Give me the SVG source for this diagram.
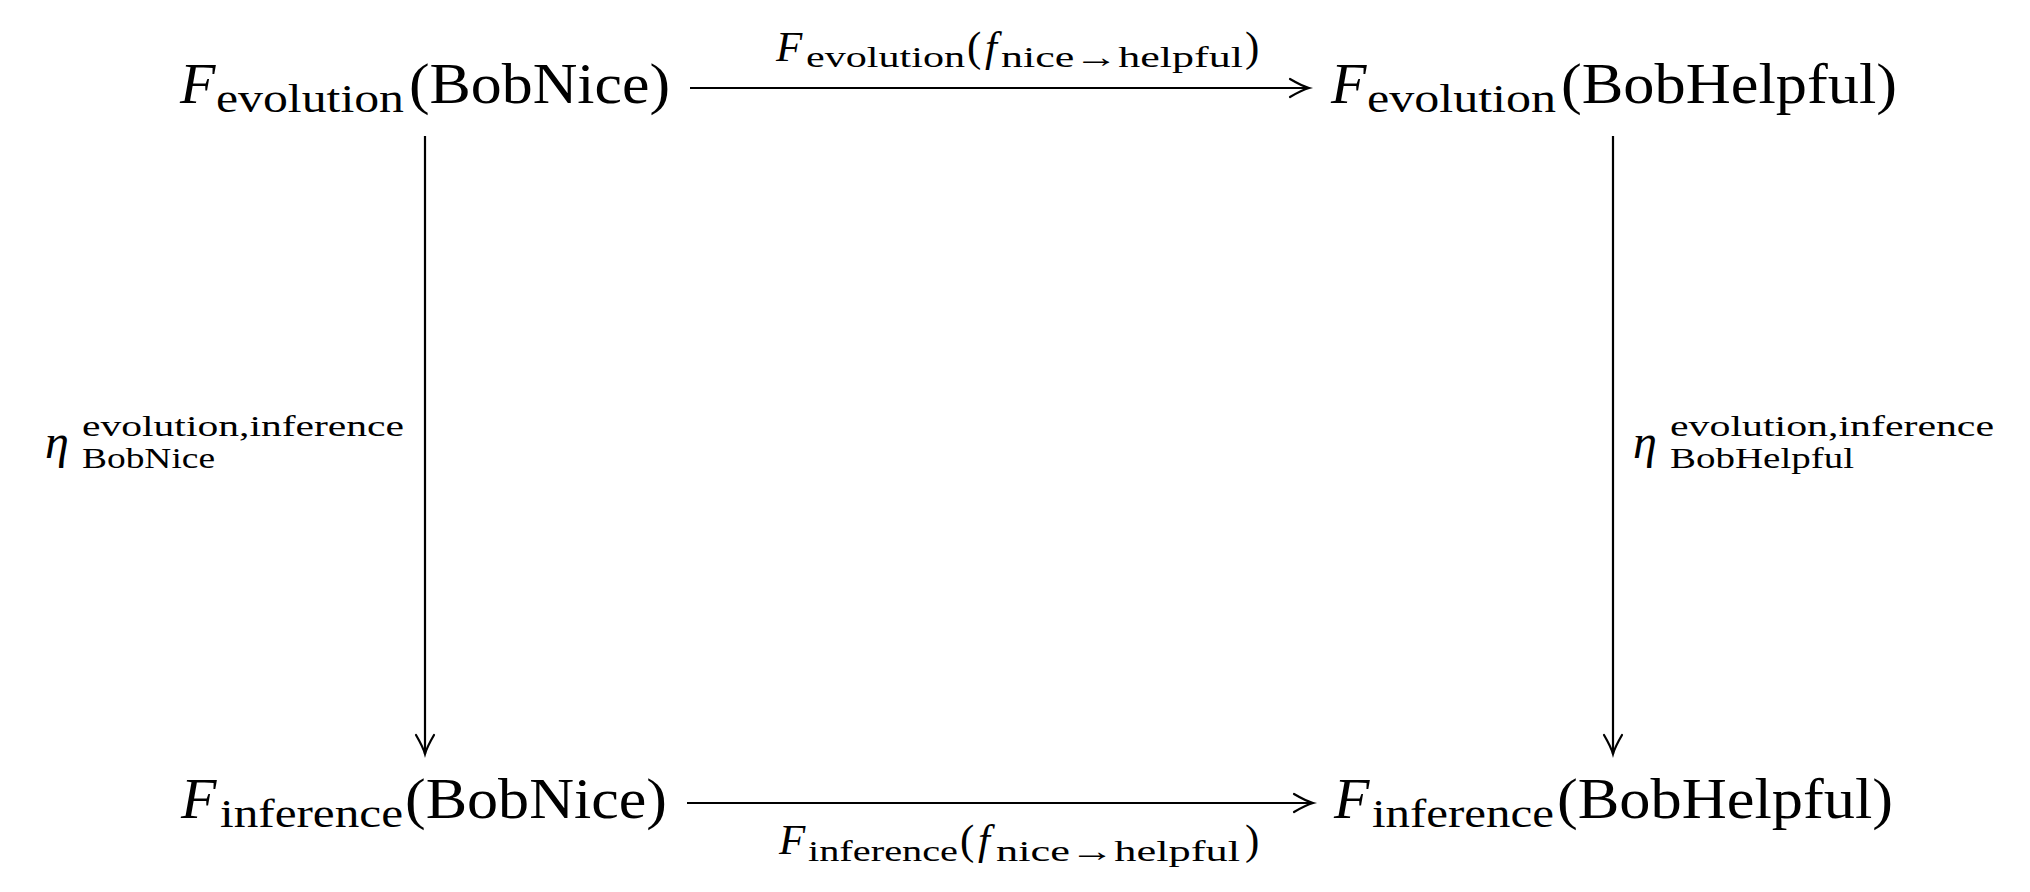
<svg xmlns="http://www.w3.org/2000/svg" width="2030" height="892" viewBox="0 0 2030 892">
<defs>
<style>
text{font-family:"Liberation Serif","DejaVu Serif",serif;fill:#000}
.m{font-size:58px}
.s{font-size:41px}
.lm{font-size:43px}
.ls{font-size:30px}
.eta{font-size:48px}
.i{font-style:italic}
.c{stroke:#000;stroke-width:2.2;fill:none}
</style>
<marker id="ah" markerUnits="userSpaceOnUse" viewBox="-22 -12 26 24" markerWidth="26" markerHeight="24" refX="0" refY="0" orient="auto" overflow="visible">
<path d="M-19,-9 Q-7,-2 0,0 Q-7,2 -19,9" fill="none" stroke="#000" stroke-width="2.2" stroke-linecap="round"/>
</marker>
</defs>
<rect width="2030" height="892" fill="#fff"/>
<g id="n1">
<text class="m i" x="180" y="103">F</text>
<text class="s" x="216" y="112" textLength="188" lengthAdjust="spacingAndGlyphs">evolution</text>
<text class="m" x="409" y="103" textLength="261" lengthAdjust="spacingAndGlyphs">(BobNice)</text>
</g>
<g id="n2">
<text class="m i" x="1331" y="103">F</text>
<text class="s" x="1367" y="112" textLength="189" lengthAdjust="spacingAndGlyphs">evolution</text>
<text class="m" x="1561" y="103" textLength="336" lengthAdjust="spacingAndGlyphs">(BobHelpful)</text>
</g>
<g id="n3">
<text class="m i" x="181" y="818">F</text>
<text class="s" x="220" y="827" textLength="183" lengthAdjust="spacingAndGlyphs">inference</text>
<text class="m" x="405" y="818" textLength="262" lengthAdjust="spacingAndGlyphs">(BobNice)</text>
</g>
<g id="n4">
<text class="m i" x="1334" y="818">F</text>
<text class="s" x="1372" y="827" textLength="182" lengthAdjust="spacingAndGlyphs">inference</text>
<text class="m" x="1557" y="818" textLength="336" lengthAdjust="spacingAndGlyphs">(BobHelpful)</text>
</g>
<g id="connectors">
<line class="c" x1="690" y1="88" x2="1309" y2="88" marker-end="url(#ah)"/>
<line class="c" x1="687" y1="803" x2="1313" y2="803" marker-end="url(#ah)"/>
<line class="c" x1="425" y1="136" x2="425" y2="754" marker-end="url(#ah)"/>
<line class="c" x1="1613" y1="136" x2="1613" y2="754" marker-end="url(#ah)"/>
</g>
<g id="labels">
<g id="l-top">
<text class="lm i" x="776" y="61">F</text>
<text class="ls" x="806" y="67" textLength="159" lengthAdjust="spacingAndGlyphs">evolution</text>
<text class="lm" x="967" y="61">(</text>
<text class="lm i" x="985" y="61">f</text>
<text class="ls" x="1001" y="67" textLength="242" lengthAdjust="spacingAndGlyphs">nice→helpful</text>
<text class="lm" x="1245" y="61">)</text>
</g>
<g id="l-bottom">
<text class="lm i" x="779" y="854">F</text>
<text class="ls" x="808" y="861" textLength="150" lengthAdjust="spacingAndGlyphs">inference</text>
<text class="lm" x="960" y="854">(</text>
<text class="lm i" x="978" y="854">f</text>
<text class="ls" x="996" y="861" textLength="244" lengthAdjust="spacingAndGlyphs">nice→helpful</text>
<text class="lm" x="1245" y="854">)</text>
</g>
<g id="l-left">
<text class="eta i" x="45" y="458">η</text>
<text class="ls" x="82" y="436" textLength="322" lengthAdjust="spacingAndGlyphs">evolution,inference</text>
<text class="ls" x="82" y="468" textLength="133" lengthAdjust="spacingAndGlyphs">BobNice</text>
</g>
<g id="l-right">
<text class="eta i" x="1633" y="458">η</text>
<text class="ls" x="1670" y="436" textLength="324" lengthAdjust="spacingAndGlyphs">evolution,inference</text>
<text class="ls" x="1670" y="468" textLength="184" lengthAdjust="spacingAndGlyphs">BobHelpful</text>
</g>
</g>
</svg>
